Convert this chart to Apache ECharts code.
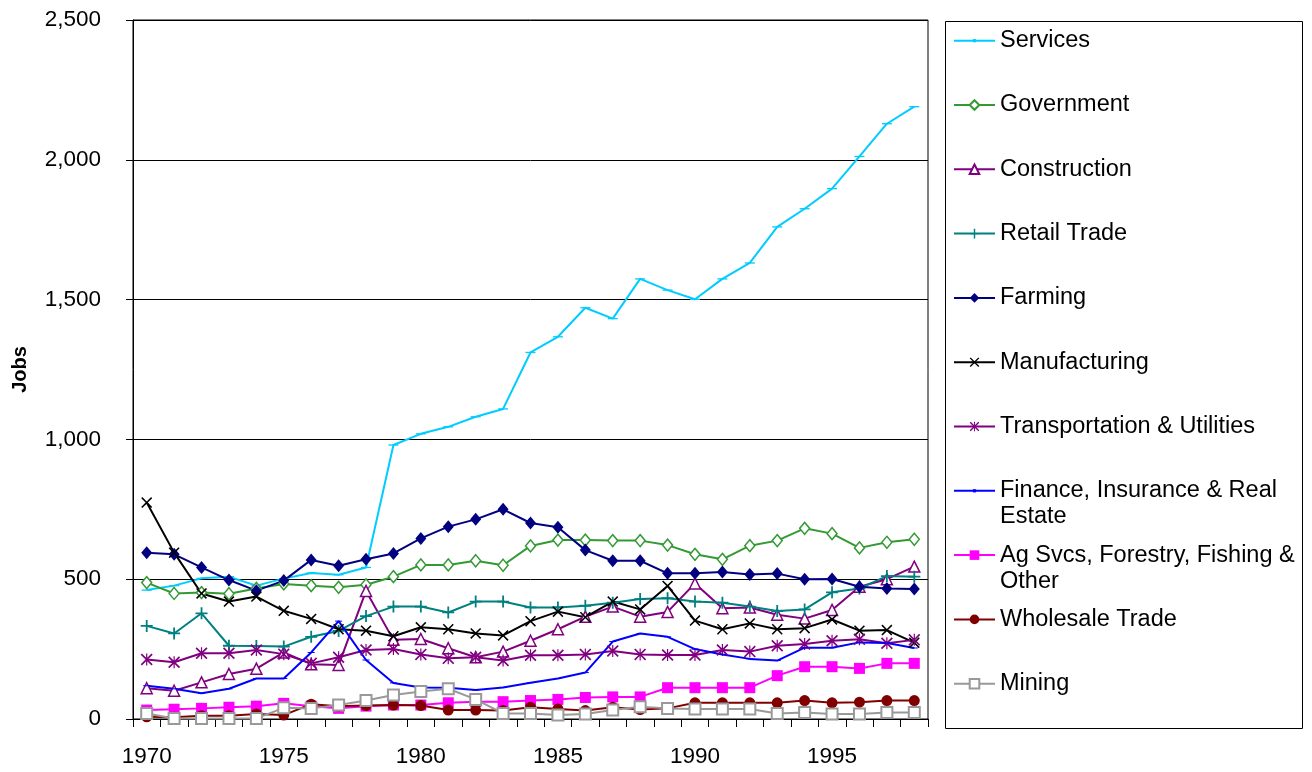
<!DOCTYPE html>
<html>
<head>
<meta charset="utf-8">
<title>Jobs by industry 1970-1998</title>
<script src="https://cdn.jsdelivr.net/npm/echarts@6/dist/echarts.min.js"></script>
<style>
    html, body { margin: 0; padding: 0; background: #fff; }
    #chart { width: 1312px; height: 772px; }
</style>
</head>
<body>
<div id="chart"></div>
<script>
    // years on the x axis
    var years = ['1970', '1971', '1972', '1973', '1974', '1975', '1976', '1977', '1978', '1979',
        '1980', '1981', '1982', '1983', '1984', '1985', '1986', '1987', '1988', '1989',
        '1990', '1991', '1992', '1993', '1994', '1995', '1996', '1997', '1998'];
    var yTicks = [0, 500, 1000, 1500, 2000, 2500];

    // jobs per industry
    var services = [461, 477, 503, 509, 477, 502, 522, 516, 542, 980, 1020, 1045, 1081, 1109, 1311, 1367, 1471, 1432, 1574, 1534, 1501, 1574, 1631, 1760, 1825, 1897, 2012, 2129, 2190];
    var government = [488, 449, 452, 448, 467, 483, 477, 471, 480, 509, 551, 551, 566, 550, 619, 640, 640, 638, 638, 622, 589, 571, 620, 638, 682, 663, 612, 632, 643];
    var construction = [110, 101, 131, 161, 180, 238, 196, 193, 458, 283, 286, 253, 221, 241, 280, 321, 366, 402, 366, 383, 485, 396, 399, 373, 359, 390, 473, 500, 545];
    var retailTrade = [333, 306, 378, 262, 261, 259, 294, 315, 368, 402, 402, 381, 420, 420, 399, 399, 405, 416, 429, 432, 420, 416, 402, 386, 392, 453, 467, 511, 509];
    var farming = [595, 589, 542, 497, 459, 495, 569, 548, 571, 592, 646, 688, 714, 750, 701, 686, 604, 566, 566, 521, 521, 526, 517, 520, 500, 501, 473, 467, 465];
    var manufacturing = [774, 595, 449, 420, 438, 387, 358, 321, 316, 296, 328, 321, 306, 299, 350, 384, 364, 420, 392, 476, 352, 321, 342, 321, 325, 356, 316, 318, 273];
    var transportation = [213, 203, 235, 235, 247, 232, 199, 221, 247, 250, 231, 217, 221, 209, 228, 228, 231, 243, 231, 229, 229, 247, 241, 262, 268, 280, 285, 271, 283];
    var finance = [119, 108, 92, 108, 145, 145, 238, 350, 211, 129, 113, 112, 104, 113, 130, 145, 166, 277, 306, 294, 250, 231, 215, 209, 255, 255, 274, 272, 254];
    var agServices = [32, 35, 38, 42, 46, 56, 46, 38, 46, 50, 50, 58, 62, 62, 66, 70, 77, 79, 79, 112, 112, 112, 112, 155, 187, 187, 181, 199, 199];
    var wholesale = [8, 6, 12, 12, 18, 14, 53, 46, 48, 50, 48, 32, 32, 30, 42, 36, 30, 42, 34, 38, 58, 58, 58, 58, 66, 58, 60, 66, 66];
    var mining = [20, 2, 2, 2, 2, 40, 38, 50, 66, 86, 98, 108, 70, 20, 20, 14, 18, 32, 44, 38, 36, 36, 36, 20, 23, 18, 18, 23, 23];

    var FONT = '"Liberation Sans", Arial, sans-serif';

    // excel-like marker shapes
    var DASH = 'path://M0,0 H30 V10 H0 Z';
    var PLUS = 'path://M8.5,0 H11.5 V8.5 H20 V11.5 H11.5 V20 H8.5 V11.5 H0 V8.5 H8.5 Z';
    var CROSS = 'path://M2,0 L10,8 L18,0 L20,2 L12,10 L20,18 L18,20 L10,12 L2,20 L0,18 L8,10 L0,2 Z';
    var STAR = 'path://M2,0 L10,8 L18,0 L20,2 L12,10 L20,18 L18,20 L10,12 L2,20 L0,18 L8,10 L0,2 Z M9,0 H11 V20 H9 Z';

    var defs = [
        {name: 'Services', data: services, color: '#00CCFF', symbol: DASH, size: [10, 4], keep: true},
        {name: 'Government', data: government, color: '#339933', symbol: 'diamond', size: [10, 12], hollow: true},
        {name: 'Construction', data: construction, color: '#800080', symbol: 'triangle', size: 11, hollow: true},
        {name: 'Retail Trade', data: retailTrade, color: '#008080', symbol: PLUS, size: 12},
        {name: 'Farming', data: farming, color: '#000080', symbol: 'diamond', size: [11, 13]},
        {name: 'Manufacturing', data: manufacturing, color: '#000000', symbol: CROSS, size: 11},
        {name: 'Transportation & Utilities', data: transportation, color: '#800080', symbol: STAR, size: 12},
        {name: 'Finance, Insurance & Real Estate', data: finance, color: '#0000FF', symbol: DASH, size: [7, 3], keep: true, wrap: ' Estate'},
        {name: 'Ag Svcs, Forestry, Fishing & Other', data: agServices, color: '#FF00FF', symbol: 'rect', size: 11, wrap: ' Other'},
        {name: 'Wholesale Trade', data: wholesale, color: '#800000', symbol: 'circle', size: 11},
        {name: 'Mining', data: mining, color: '#999999', symbol: 'rect', size: 11, hollow: true}
    ];

    var series = defs.map(function (d) {
        return {
            name: d.name,
            type: 'line',
            data: d.data,
            symbol: d.symbol,
            symbolSize: d.size,
            symbolKeepAspect: !!d.keep,
            showAllSymbol: true,
            lineStyle: {color: d.color, width: 2},
            itemStyle: d.hollow
                ? {color: '#ffffff', borderColor: d.color, borderWidth: d.name === 'Mining' ? 2 : 1.5}
                : {color: d.color, borderWidth: 0}
        };
    });

    // one legend per entry so the rows sit where excel put them
    var legends = defs.map(function (d, i) {
        var yc = 40.7 + 64.3 * i;
        return {
            data: [d.name],
            orient: 'vertical',
            left: 953,
            top: d.wrap ? yc - 39 : yc - 13,
            padding: 0,
            itemWidth: 41,
            itemHeight: d.keep ? 4 : 12,
            selectedMode: false,
            // blank first line keeps the icon level with the first text line
            formatter: d.wrap ? function (n) { return '\n' + n.replace(d.wrap, '\n' + d.wrap.trim()); } : '{name}',
            textStyle: {
                fontFamily: FONT,
                fontSize: 23.5,
                color: '#000',
                lineHeight: 26
            }
        };
    });

    var chart = echarts.init(document.getElementById('chart'));
    chart.setOption({
        animation: false,
        backgroundColor: '#ffffff',
        grid: {
            left: 133, right: 384, top: 20, bottom: 53,
            show: true, borderColor: '#000', borderWidth: 1,
            containLabel: false,
            outerBoundsMode: 'none'
        },
        legend: legends,
        graphic: [{
            type: 'rect',
            shape: {x: 945.5, y: 21.5, width: 357, height: 707},
            style: {fill: null, stroke: '#000', lineWidth: 1},
            silent: true
        }],
        xAxis: {
            type: 'category',
            data: years,
            boundaryGap: true,
            axisLine: {lineStyle: {color: '#000', width: 1}},
            axisTick: {show: true, interval: 0, length: 8, lineStyle: {color: '#000'}},
            axisLabel: {interval: 4, fontFamily: FONT, fontSize: 22.5, color: '#000', margin: 26},
            splitLine: {show: false}
        },
        yAxis: {
            type: 'value',
            min: yTicks[0],
            max: yTicks[yTicks.length - 1],
            interval: yTicks[1] - yTicks[0],
            name: 'Jobs',
            nameLocation: 'middle',
            nameRotate: 90,
            nameGap: 103,
            nameTextStyle: {fontFamily: FONT, fontSize: 20, fontWeight: 'bold', color: '#000'},
            axisLine: {show: true, lineStyle: {color: '#000', width: 1}},
            axisTick: {show: true, length: 7, lineStyle: {color: '#000'}},
            axisLabel: {
                fontFamily: FONT, fontSize: 22.5, color: '#000', margin: 32,
                formatter: function (v) { return v.toLocaleString('en-US'); }
            },
            splitLine: {show: true, lineStyle: {color: '#000', width: 1}}
        },
        series: series
    });
</script>
</body>
</html>
